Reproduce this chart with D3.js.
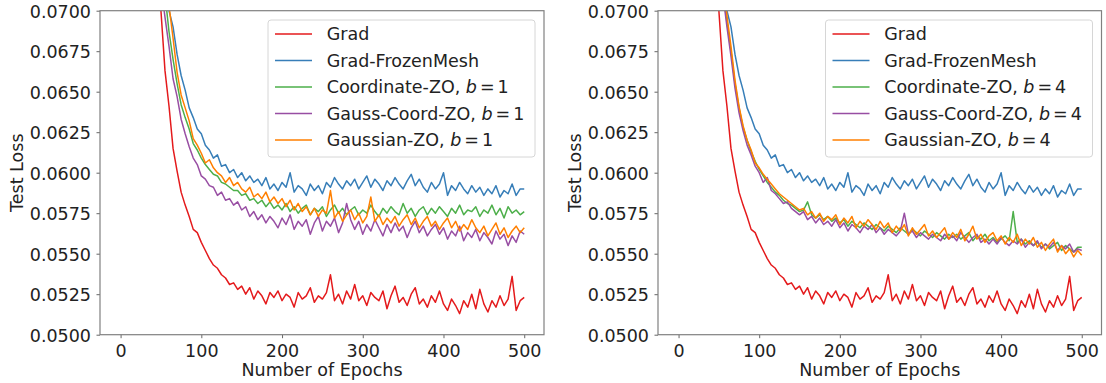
<!DOCTYPE html>
<html>
<head>
<meta charset="utf-8">
<script src="https://cdn.jsdelivr.net/npm/d3@7"></script>
<style>
  body { margin: 0; background: #fff; }
  svg { display: block; font-family: "DejaVu Sans", sans-serif; }
</style>
</head>
<body>
<svg id="chart" width="1106" height="383"></svg>
<script>
// epochs sampled every 5 from 40 to 500
var epochs = d3.range(40, 501, 5);

var yTicks = [0.05, 0.0525, 0.055, 0.0575, 0.06, 0.0625, 0.065, 0.0675, 0.07];
var xTicks = [0, 100, 200, 300, 400, 500];

// shared by both panels
var gradLoss = [
  0.0800,0.0745,0.0700,0.0663,0.0641,0.0615,0.0601,0.0588,0.0580,0.0573,
  0.0565,0.0563,0.0557,0.0552,0.0547,0.0543,0.0541,0.0537,0.0535,0.0531,
  0.0532,0.0528,0.0530,0.0525,0.0529,0.0522,0.0527,0.0524,0.0519,0.0526,
  0.0523,0.0527,0.0521,0.0525,0.0523,0.0517,0.0526,0.0522,0.0524,0.0529,
  0.0520,0.0524,0.0522,0.0526,0.0537,0.0521,0.0525,0.0519,0.0527,0.0522,
  0.0531,0.0521,0.0524,0.0518,0.0526,0.0523,0.0521,0.0527,0.0516,0.0524,
  0.0530,0.0520,0.0523,0.0518,0.0525,0.0529,0.0519,0.0522,0.0517,0.0524,
  0.0520,0.0527,0.0519,0.0515,0.0522,0.0518,0.0513,0.0521,0.0517,0.0525,
  0.0516,0.0528,0.0519,0.0514,0.0521,0.0517,0.0524,0.0518,0.0522,0.0536,
  0.0515,0.0521,0.0523
];
var frozenLoss = [
  0.0850,0.0790,0.0745,0.0715,0.0700,0.0690,0.0673,0.0660,0.0651,0.0640,
  0.0634,0.0627,0.0624,0.0617,0.0614,0.0609,0.0611,0.0604,0.0605,0.0600,
  0.0602,0.0597,0.0600,0.0595,0.0598,0.0594,0.0596,0.0592,0.0597,0.0590,
  0.0593,0.0589,0.0594,0.0591,0.0600,0.0588,0.0592,0.0590,0.0586,0.0593,
  0.0589,0.0592,0.0587,0.0594,0.0591,0.0597,0.0593,0.0590,0.0595,0.0592,
  0.0596,0.0590,0.0594,0.0598,0.0591,0.0596,0.0593,0.0589,0.0595,0.0592,
  0.0597,0.0593,0.0590,0.0595,0.0599,0.0592,0.0596,0.0591,0.0588,0.0594,
  0.0590,0.0593,0.0600,0.0586,0.0592,0.0589,0.0594,0.0590,0.0587,0.0592,
  0.0588,0.0591,0.0586,0.0590,0.0587,0.0592,0.0585,0.0589,0.0587,0.0593,
  0.0586,0.0590,0.0590
];

// b = 1
var coordLoss1 = [
  0.0820,0.0770,0.0735,0.0710,0.0687,0.0670,0.0655,0.0642,0.0634,0.0627,
  0.0618,0.0614,0.0609,0.0605,0.0602,0.0599,0.0598,0.0594,0.0593,0.0591,
  0.0589,0.0589,0.0586,0.0587,0.0583,0.0584,0.0581,0.0583,0.0579,0.0582,
  0.0578,0.0580,0.0577,0.0581,0.0576,0.0579,0.0575,0.0578,0.0580,0.0574,
  0.0578,0.0576,0.0579,0.0573,0.0577,0.0580,0.0575,0.0578,0.0574,0.0577,
  0.0579,0.0574,0.0577,0.0575,0.0580,0.0576,0.0573,0.0578,0.0575,0.0579,
  0.0576,0.0574,0.0581,0.0575,0.0578,0.0573,0.0577,0.0579,0.0574,0.0578,
  0.0575,0.0579,0.0576,0.0573,0.0578,0.0575,0.0580,0.0574,0.0577,0.0576,
  0.0579,0.0573,0.0577,0.0575,0.0580,0.0574,0.0578,0.0572,0.0579,0.0575,
  0.0577,0.0574,0.0576
];
var gcoordLoss1 = [
  0.0790,0.0740,0.0715,0.0696,0.0678,0.0658,0.0647,0.0633,0.0624,0.0616,
  0.0609,0.0605,0.0598,0.0596,0.0592,0.0591,0.0586,0.0588,0.0583,0.0584,
  0.0580,0.0582,0.0577,0.0579,0.0573,0.0576,0.0571,0.0574,0.0569,0.0573,
  0.0570,0.0566,0.0572,0.0568,0.0574,0.0565,0.0570,0.0567,0.0571,0.0562,
  0.0569,0.0573,0.0564,0.0570,0.0567,0.0572,0.0563,0.0569,0.0581,0.0571,
  0.0565,0.0570,0.0562,0.0568,0.0564,0.0571,0.0566,0.0561,0.0568,0.0563,
  0.0569,0.0564,0.0567,0.0560,0.0566,0.0570,0.0563,0.0567,0.0561,0.0565,
  0.0568,0.0562,0.0566,0.0559,0.0564,0.0561,0.0567,0.0558,0.0563,0.0560,
  0.0565,0.0558,0.0563,0.0560,0.0556,0.0564,0.0559,0.0562,0.0555,0.0561,
  0.0557,0.0564,0.0562
];
var gaussLoss1 = [
  0.0850,0.0790,0.0750,0.0722,0.0703,0.0683,0.0662,0.0648,0.0640,0.0632,
  0.0621,0.0617,0.0612,0.0606,0.0608,0.0603,0.0600,0.0598,0.0594,0.0597,
  0.0592,0.0594,0.0590,0.0588,0.0591,0.0585,0.0587,0.0584,0.0588,0.0582,
  0.0585,0.0581,0.0584,0.0579,0.0583,0.0577,0.0581,0.0576,0.0579,0.0574,
  0.0578,0.0573,0.0577,0.0575,0.0589,0.0572,0.0576,0.0570,0.0574,0.0577,
  0.0571,0.0575,0.0569,0.0573,0.0585,0.0570,0.0574,0.0568,0.0572,0.0569,
  0.0573,0.0567,0.0571,0.0574,0.0568,0.0572,0.0566,0.0570,0.0573,0.0567,
  0.0570,0.0565,0.0569,0.0572,0.0566,0.0570,0.0564,0.0568,0.0565,0.0571,
  0.0566,0.0563,0.0567,0.0561,0.0565,0.0569,0.0562,0.0566,0.0560,0.0564,
  0.0567,0.0563,0.0566
];

// b = 4
var coordLoss4 = [
  0.0830,0.0775,0.0738,0.0712,0.0693,0.0675,0.0655,0.0640,0.0628,0.0620,
  0.0613,0.0607,0.0602,0.0598,0.0594,0.0591,0.0588,0.0586,0.0583,0.0581,
  0.0580,0.0578,0.0576,0.0577,0.0582,0.0574,0.0572,0.0574,0.0571,0.0573,
  0.0570,0.0572,0.0569,0.0571,0.0567,0.0570,0.0568,0.0566,0.0569,0.0567,
  0.0565,0.0568,0.0566,0.0564,0.0567,0.0565,0.0563,0.0566,0.0564,0.0562,
  0.0565,0.0563,0.0561,0.0564,0.0562,0.0560,0.0563,0.0561,0.0559,0.0562,
  0.0560,0.0562,0.0559,0.0561,0.0563,0.0558,0.0561,0.0559,0.0562,0.0558,
  0.0560,0.0557,0.0559,0.0561,0.0558,0.0576,0.0557,0.0559,0.0556,0.0558,
  0.0555,0.0557,0.0554,0.0556,0.0553,0.0555,0.0557,0.0552,0.0555,0.0553,
  0.0551,0.0554,0.0554
];
var gcoordLoss4 = [
  0.0820,0.0770,0.0735,0.0710,0.0690,0.0672,0.0652,0.0637,0.0626,0.0617,
  0.0611,0.0604,0.0600,0.0594,0.0597,0.0589,0.0587,0.0584,0.0581,0.0582,
  0.0578,0.0576,0.0574,0.0576,0.0571,0.0573,0.0569,0.0572,0.0568,0.0570,
  0.0567,0.0571,0.0566,0.0569,0.0564,0.0568,0.0566,0.0563,0.0567,0.0565,
  0.0568,0.0563,0.0566,0.0562,0.0565,0.0563,0.0561,0.0564,0.0575,0.0562,
  0.0564,0.0560,0.0563,0.0561,0.0559,0.0562,0.0560,0.0558,0.0562,0.0559,
  0.0561,0.0558,0.0563,0.0560,0.0557,0.0560,0.0562,0.0557,0.0559,0.0556,
  0.0559,0.0556,0.0560,0.0557,0.0555,0.0558,0.0556,0.0559,0.0554,0.0557,
  0.0555,0.0558,0.0553,0.0556,0.0554,0.0557,0.0552,0.0555,0.0553,0.0556,
  0.0551,0.0553,0.0552
];
var gaussLoss4 = [
  0.0840,0.0785,0.0745,0.0718,0.0697,0.0678,0.0657,0.0641,0.0629,0.0620,
  0.0614,0.0606,0.0603,0.0599,0.0596,0.0593,0.0590,0.0587,0.0585,0.0583,
  0.0581,0.0579,0.0577,0.0578,0.0574,0.0576,0.0572,0.0575,0.0570,0.0573,
  0.0571,0.0574,0.0568,0.0572,0.0569,0.0573,0.0566,0.0570,0.0567,0.0571,
  0.0568,0.0565,0.0570,0.0566,0.0569,0.0563,0.0567,0.0564,0.0568,0.0561,
  0.0566,0.0562,0.0565,0.0568,0.0561,0.0564,0.0560,0.0563,0.0566,0.0559,
  0.0563,0.0560,0.0565,0.0558,0.0562,0.0567,0.0559,0.0562,0.0557,0.0561,
  0.0563,0.0558,0.0561,0.0556,0.0560,0.0557,0.0562,0.0555,0.0559,0.0556,
  0.0560,0.0554,0.0557,0.0552,0.0556,0.0559,0.0551,0.0555,0.0550,0.0553,
  0.0548,0.0552,0.0549
];

var colors = ["#e41a1c", "#377eb8", "#4daf4a", "#984ea3", "#ff7f00"];
var names = ["Grad", "Grad-FrozenMesh", "Coordinate-ZO, ", "Gauss-Coord-ZO, ", "Gaussian-ZO, "];

var panels = [
  { left: 100, right: 544, b: "1", series: [gradLoss, frozenLoss, coordLoss1, gcoordLoss1, gaussLoss1] },
  { left: 658, right: 1101.5, b: "4", series: [gradLoss, frozenLoss, coordLoss4, gcoordLoss4, gaussLoss4] }
];

var plotTop = 10.7, plotBottom = 334.7;
var fs = 17.5;
var svg = d3.select("#chart");

panels.forEach(function(p, pi) {
  var x = d3.scaleLinear().domain([-25.5, 524.5]).range([p.left, p.right]);
  var y = d3.scaleLinear().domain([0.05, 0.07]).range([plotBottom, plotTop]);

  var g = svg.append("g");

  g.append("clipPath").attr("id", "clip" + pi)
    .append("rect")
    .attr("x", p.left).attr("y", plotTop)
    .attr("width", p.right - p.left).attr("height", plotBottom - plotTop);

  var line = d3.line()
    .x(function(d, i) { return x(epochs[i]); })
    .y(function(d) { return y(d); });

  p.series.forEach(function(s, si) {
    g.append("path")
      .datum(s)
      .attr("clip-path", "url(#clip" + pi + ")")
      .attr("fill", "none")
      .attr("stroke", colors[si])
      .attr("stroke-width", 1.5)
      .attr("stroke-linejoin", "round")
      .attr("d", line);
  });

  // axes
  var xAxis = g.append("g")
    .attr("transform", "translate(0," + plotBottom + ")")
    .call(d3.axisBottom(x).tickValues(xTicks).tickSize(3.5).tickPadding(4).tickFormat(d3.format("d")));
  var yAxis = g.append("g")
    .attr("transform", "translate(" + p.left + ",0)")
    .call(d3.axisLeft(y).tickValues(yTicks).tickSize(3.5).tickPadding(5.5).tickFormat(d3.format(".4f")));

  [xAxis, yAxis].forEach(function(a) {
    a.select(".domain").remove();
    a.selectAll(".tick line").attr("stroke", "#555").attr("stroke-width", 0.9);
    a.selectAll(".tick text")
      .attr("fill", "#222")
      .style("font-size", fs + "px")
      .style("font-family", "DejaVu Sans");
  });
  xAxis.selectAll(".tick text").attr("dy", null).attr("y", 22.3);
  yAxis.selectAll(".tick text").attr("dy", "0.36em");

  // frame
  g.append("rect")
    .attr("x", p.left).attr("y", plotTop)
    .attr("width", p.right - p.left).attr("height", plotBottom - plotTop)
    .attr("fill", "none")
    .attr("stroke", "#808080")
    .attr("stroke-width", 1.2);

  // labels
  g.append("text")
    .attr("x", (p.left + p.right) / 2).attr("y", 376)
    .attr("text-anchor", "middle")
    .attr("fill", "#222")
    .style("font-size", fs + "px")
    .text("Number of Epochs");

  var ylx = p.left - 76.7, yly = (plotTop + plotBottom) / 2;
  g.append("text")
    .attr("transform", "translate(" + ylx + "," + yly + ") rotate(-90)")
    .attr("text-anchor", "middle")
    .attr("fill", "#222")
    .style("font-size", fs + "px")
    .text("Test Loss");

  // legend
  var lx = p.right - 276, ly = 20;
  var leg = g.append("g");
  leg.append("rect")
    .attr("x", lx).attr("y", ly)
    .attr("width", 267).attr("height", 137)
    .attr("rx", 3)
    .attr("fill", "#fff").attr("fill-opacity", 0.8)
    .attr("stroke", "#d6d6d6").attr("stroke-width", 1);

  names.forEach(function(n, i) {
    var cy = 34 + i * 26.5;
    leg.append("line")
      .attr("x1", lx + 7).attr("x2", lx + 44)
      .attr("y1", cy).attr("y2", cy)
      .attr("stroke", colors[i]).attr("stroke-width", 1.5);
    var t = leg.append("text")
      .attr("x", lx + 58.7).attr("y", cy + 6.3)
      .attr("fill", "#222")
      .style("font-size", fs + "px");
    t.append("tspan").text(n);
    if (i >= 2) {
      t.append("tspan").style("font-style", "italic").text("b");
      t.append("tspan").attr("dx", 3).text("=");
      t.append("tspan").attr("dx", 3).text(p.b);
    }
  });
});
</script>
</body>
</html>
